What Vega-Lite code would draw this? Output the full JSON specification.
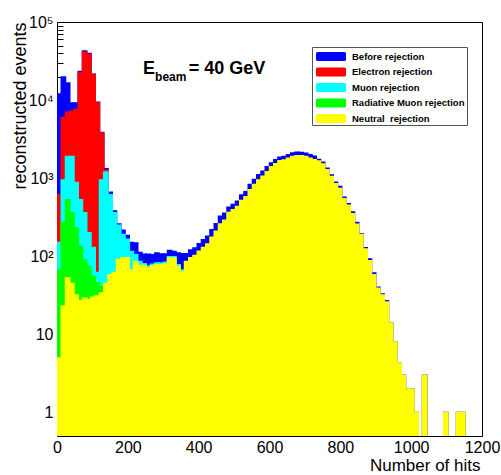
{
  "$schema": "https://vega.github.io/schema/vega-lite/v6.json",
  "width": 425,
  "height": 414,
  "autosize": {"type": "none"},
  "padding": {"left": 57, "top": 22, "right": 19, "bottom": 39},
  "background": "white",
  "config": {
    "view": {"stroke": "#000", "strokeWidth": 1},
    "font": "Liberation Sans"
  },
  "datasets": {
    "hist": [
      {"s":"Before rejection","lo":0,"hi":12,"n":12000},{"s":"Before rejection","lo":12,"hi":24,"n":19800},{"s":"Before rejection","lo":24,"hi":36,"n":16600},{"s":"Before rejection","lo":36,"hi":48,"n":9200},{"s":"Before rejection","lo":48,"hi":60,"n":9200},{"s":"Before rejection","lo":60,"hi":72,"n":23300},{"s":"Before rejection","lo":72,"hi":84,"n":42500},{"s":"Before rejection","lo":84,"hi":96,"n":39500},{"s":"Before rejection","lo":96,"hi":108,"n":21500},{"s":"Before rejection","lo":108,"hi":120,"n":9400},
      {"s":"Before rejection","lo":120,"hi":132,"n":3850},{"s":"Before rejection","lo":132,"hi":144,"n":1320},{"s":"Before rejection","lo":144,"hi":156,"n":660},{"s":"Before rejection","lo":156,"hi":168,"n":380},{"s":"Before rejection","lo":168,"hi":180,"n":260},{"s":"Before rejection","lo":180,"hi":192,"n":215},{"s":"Before rejection","lo":192,"hi":204,"n":185},{"s":"Before rejection","lo":204,"hi":216,"n":150},{"s":"Before rejection","lo":216,"hi":228,"n":148},{"s":"Before rejection","lo":228,"hi":240,"n":112},
      {"s":"Before rejection","lo":240,"hi":252,"n":106},{"s":"Before rejection","lo":252,"hi":264,"n":106},{"s":"Before rejection","lo":264,"hi":276,"n":105},{"s":"Before rejection","lo":276,"hi":288,"n":110},{"s":"Before rejection","lo":288,"hi":300,"n":107},{"s":"Before rejection","lo":300,"hi":312,"n":107},{"s":"Before rejection","lo":312,"hi":324,"n":119},{"s":"Before rejection","lo":324,"hi":336,"n":115},{"s":"Before rejection","lo":336,"hi":348,"n":110},{"s":"Before rejection","lo":348,"hi":360,"n":108},
      {"s":"Before rejection","lo":360,"hi":372,"n":108},{"s":"Before rejection","lo":372,"hi":384,"n":120},{"s":"Before rejection","lo":384,"hi":396,"n":128},{"s":"Before rejection","lo":396,"hi":408,"n":145},{"s":"Before rejection","lo":408,"hi":420,"n":163},{"s":"Before rejection","lo":420,"hi":432,"n":180},{"s":"Before rejection","lo":432,"hi":444,"n":218},{"s":"Before rejection","lo":444,"hi":456,"n":262},{"s":"Before rejection","lo":456,"hi":468,"n":325},{"s":"Before rejection","lo":468,"hi":480,"n":355},
      {"s":"Before rejection","lo":480,"hi":492,"n":425},{"s":"Before rejection","lo":492,"hi":504,"n":460},{"s":"Before rejection","lo":504,"hi":516,"n":505},{"s":"Before rejection","lo":516,"hi":528,"n":610},{"s":"Before rejection","lo":528,"hi":540,"n":670},{"s":"Before rejection","lo":540,"hi":552,"n":830},{"s":"Before rejection","lo":552,"hi":564,"n":960},{"s":"Before rejection","lo":564,"hi":576,"n":1110},{"s":"Before rejection","lo":576,"hi":588,"n":1230},{"s":"Before rejection","lo":588,"hi":600,"n":1400},
      {"s":"Before rejection","lo":600,"hi":612,"n":1560},{"s":"Before rejection","lo":612,"hi":624,"n":1720},{"s":"Before rejection","lo":624,"hi":636,"n":1860},{"s":"Before rejection","lo":636,"hi":648,"n":1900},{"s":"Before rejection","lo":648,"hi":660,"n":2000},{"s":"Before rejection","lo":660,"hi":672,"n":2100},{"s":"Before rejection","lo":672,"hi":684,"n":2150},{"s":"Before rejection","lo":684,"hi":696,"n":2140},{"s":"Before rejection","lo":696,"hi":708,"n":2080},{"s":"Before rejection","lo":708,"hi":720,"n":1990},
      {"s":"Before rejection","lo":720,"hi":732,"n":1910},{"s":"Before rejection","lo":732,"hi":744,"n":1740},{"s":"Before rejection","lo":744,"hi":756,"n":1600},{"s":"Before rejection","lo":756,"hi":768,"n":1340},{"s":"Before rejection","lo":768,"hi":780,"n":1100},{"s":"Before rejection","lo":780,"hi":792,"n":890},{"s":"Before rejection","lo":792,"hi":804,"n":780},{"s":"Before rejection","lo":804,"hi":816,"n":570},{"s":"Before rejection","lo":816,"hi":828,"n":470},{"s":"Before rejection","lo":828,"hi":840,"n":370},
      {"s":"Before rejection","lo":840,"hi":852,"n":270},{"s":"Before rejection","lo":852,"hi":864,"n":195},{"s":"Before rejection","lo":864,"hi":876,"n":129},{"s":"Before rejection","lo":876,"hi":888,"n":92},{"s":"Before rejection","lo":888,"hi":900,"n":61},{"s":"Before rejection","lo":900,"hi":912,"n":40},{"s":"Before rejection","lo":912,"hi":924,"n":33},{"s":"Before rejection","lo":924,"hi":936,"n":27},{"s":"Before rejection","lo":936,"hi":948,"n":14},{"s":"Before rejection","lo":948,"hi":960,"n":8},
      {"s":"Before rejection","lo":960,"hi":972,"n":4.3},{"s":"Before rejection","lo":972,"hi":984,"n":3},{"s":"Before rejection","lo":984,"hi":996,"n":2},{"s":"Before rejection","lo":996,"hi":1008,"n":2},{"s":"Before rejection","lo":1008,"hi":1020,"n":1},{"s":"Before rejection","lo":1032,"hi":1044,"n":3},{"s":"Before rejection","lo":1092,"hi":1104,"n":1},{"s":"Before rejection","lo":1128,"hi":1140,"n":1},{"s":"Before rejection","lo":1140,"hi":1152,"n":1},

      {"s":"Electron rejection","lo":0,"hi":12,"n":615},{"s":"Electron rejection","lo":12,"hi":24,"n":6000},{"s":"Electron rejection","lo":24,"hi":36,"n":7000},{"s":"Electron rejection","lo":36,"hi":48,"n":7200},{"s":"Electron rejection","lo":48,"hi":60,"n":7600},{"s":"Electron rejection","lo":60,"hi":72,"n":22400},{"s":"Electron rejection","lo":72,"hi":84,"n":41300},{"s":"Electron rejection","lo":84,"hi":96,"n":38400},{"s":"Electron rejection","lo":96,"hi":108,"n":21200},{"s":"Electron rejection","lo":108,"hi":120,"n":9200},{"s":"Electron rejection","lo":120,"hi":132,"n":3800},{"s":"Electron rejection","lo":132,"hi":144,"n":1270},

      {"s":"Muon rejection","lo":0,"hi":12,"n":150},{"s":"Muon rejection","lo":12,"hi":24,"n":950},{"s":"Muon rejection","lo":24,"hi":36,"n":1900},{"s":"Muon rejection","lo":36,"hi":48,"n":1900},{"s":"Muon rejection","lo":48,"hi":60,"n":880},{"s":"Muon rejection","lo":60,"hi":72,"n":530},{"s":"Muon rejection","lo":72,"hi":84,"n":360},{"s":"Muon rejection","lo":84,"hi":96,"n":200},{"s":"Muon rejection","lo":96,"hi":108,"n":130},{"s":"Muon rejection","lo":108,"hi":120,"n":62},
      {"s":"Muon rejection","lo":120,"hi":132,"n":950},{"s":"Muon rejection","lo":132,"hi":144,"n":1200},{"s":"Muon rejection","lo":144,"hi":156,"n":615},{"s":"Muon rejection","lo":156,"hi":168,"n":360},{"s":"Muon rejection","lo":168,"hi":180,"n":250},{"s":"Muon rejection","lo":180,"hi":192,"n":190},{"s":"Muon rejection","lo":192,"hi":204,"n":165},{"s":"Muon rejection","lo":204,"hi":216,"n":115},{"s":"Muon rejection","lo":216,"hi":228,"n":105},{"s":"Muon rejection","lo":228,"hi":240,"n":86},
      {"s":"Muon rejection","lo":240,"hi":252,"n":80},{"s":"Muon rejection","lo":252,"hi":264,"n":75},{"s":"Muon rejection","lo":264,"hi":276,"n":79},{"s":"Muon rejection","lo":276,"hi":288,"n":82},{"s":"Muon rejection","lo":288,"hi":300,"n":82},{"s":"Muon rejection","lo":300,"hi":312,"n":84},{"s":"Muon rejection","lo":312,"hi":324,"n":99},{"s":"Muon rejection","lo":324,"hi":336,"n":99},{"s":"Muon rejection","lo":336,"hi":348,"n":78},{"s":"Muon rejection","lo":348,"hi":360,"n":67},

      {"s":"Radiative Muon rejection","lo":0,"hi":12,"n":67},{"s":"Radiative Muon rejection","lo":12,"hi":24,"n":270},{"s":"Radiative Muon rejection","lo":24,"hi":36,"n":530},{"s":"Radiative Muon rejection","lo":36,"hi":48,"n":360},{"s":"Radiative Muon rejection","lo":48,"hi":60,"n":230},{"s":"Radiative Muon rejection","lo":60,"hi":72,"n":133},{"s":"Radiative Muon rejection","lo":72,"hi":84,"n":90},{"s":"Radiative Muon rejection","lo":84,"hi":96,"n":74},{"s":"Radiative Muon rejection","lo":96,"hi":108,"n":55},{"s":"Radiative Muon rejection","lo":108,"hi":120,"n":46},{"s":"Radiative Muon rejection","lo":120,"hi":132,"n":41},{"s":"Radiative Muon rejection","lo":132,"hi":144,"n":45},

      {"s":"Neutral\u00a0 rejection","lo":0,"hi":12,"n":5},{"s":"Neutral\u00a0 rejection","lo":12,"hi":24,"n":23},{"s":"Neutral\u00a0 rejection","lo":24,"hi":36,"n":53},{"s":"Neutral\u00a0 rejection","lo":36,"hi":48,"n":45},{"s":"Neutral\u00a0 rejection","lo":48,"hi":60,"n":32},{"s":"Neutral\u00a0 rejection","lo":60,"hi":72,"n":27},{"s":"Neutral\u00a0 rejection","lo":72,"hi":84,"n":29},{"s":"Neutral\u00a0 rejection","lo":84,"hi":96,"n":28},{"s":"Neutral\u00a0 rejection","lo":96,"hi":108,"n":30},{"s":"Neutral\u00a0 rejection","lo":108,"hi":120,"n":31},
      {"s":"Neutral\u00a0 rejection","lo":120,"hi":132,"n":34},{"s":"Neutral\u00a0 rejection","lo":132,"hi":144,"n":45},{"s":"Neutral\u00a0 rejection","lo":144,"hi":156,"n":58},{"s":"Neutral\u00a0 rejection","lo":156,"hi":168,"n":62},{"s":"Neutral\u00a0 rejection","lo":168,"hi":180,"n":91},{"s":"Neutral\u00a0 rejection","lo":180,"hi":192,"n":96},{"s":"Neutral\u00a0 rejection","lo":192,"hi":204,"n":96},{"s":"Neutral\u00a0 rejection","lo":204,"hi":216,"n":67},{"s":"Neutral\u00a0 rejection","lo":216,"hi":228,"n":86},{"s":"Neutral\u00a0 rejection","lo":228,"hi":240,"n":76},
      {"s":"Neutral\u00a0 rejection","lo":240,"hi":252,"n":76},{"s":"Neutral\u00a0 rejection","lo":252,"hi":264,"n":71},{"s":"Neutral\u00a0 rejection","lo":264,"hi":276,"n":75},{"s":"Neutral\u00a0 rejection","lo":276,"hi":288,"n":78},{"s":"Neutral\u00a0 rejection","lo":288,"hi":300,"n":78},{"s":"Neutral\u00a0 rejection","lo":300,"hi":312,"n":80},{"s":"Neutral\u00a0 rejection","lo":312,"hi":324,"n":95},{"s":"Neutral\u00a0 rejection","lo":324,"hi":336,"n":95},{"s":"Neutral\u00a0 rejection","lo":336,"hi":348,"n":74},{"s":"Neutral\u00a0 rejection","lo":348,"hi":360,"n":63},
      {"s":"Neutral\u00a0 rejection","lo":360,"hi":372,"n":86},{"s":"Neutral\u00a0 rejection","lo":372,"hi":384,"n":96},{"s":"Neutral\u00a0 rejection","lo":384,"hi":396,"n":102},{"s":"Neutral\u00a0 rejection","lo":396,"hi":408,"n":116},{"s":"Neutral\u00a0 rejection","lo":408,"hi":420,"n":130},{"s":"Neutral\u00a0 rejection","lo":420,"hi":432,"n":144},{"s":"Neutral\u00a0 rejection","lo":432,"hi":444,"n":175},{"s":"Neutral\u00a0 rejection","lo":444,"hi":456,"n":210},{"s":"Neutral\u00a0 rejection","lo":456,"hi":468,"n":260},{"s":"Neutral\u00a0 rejection","lo":468,"hi":480,"n":290},
      {"s":"Neutral\u00a0 rejection","lo":480,"hi":492,"n":365},{"s":"Neutral\u00a0 rejection","lo":492,"hi":504,"n":395},{"s":"Neutral\u00a0 rejection","lo":504,"hi":516,"n":435},{"s":"Neutral\u00a0 rejection","lo":516,"hi":528,"n":520},{"s":"Neutral\u00a0 rejection","lo":528,"hi":540,"n":580},{"s":"Neutral\u00a0 rejection","lo":540,"hi":552,"n":710},{"s":"Neutral\u00a0 rejection","lo":552,"hi":564,"n":830},{"s":"Neutral\u00a0 rejection","lo":564,"hi":576,"n":950},{"s":"Neutral\u00a0 rejection","lo":576,"hi":588,"n":1060},{"s":"Neutral\u00a0 rejection","lo":588,"hi":600,"n":1210},
      {"s":"Neutral\u00a0 rejection","lo":600,"hi":612,"n":1400},{"s":"Neutral\u00a0 rejection","lo":612,"hi":624,"n":1530},{"s":"Neutral\u00a0 rejection","lo":624,"hi":636,"n":1670},{"s":"Neutral\u00a0 rejection","lo":636,"hi":648,"n":1710},{"s":"Neutral\u00a0 rejection","lo":648,"hi":660,"n":1800},{"s":"Neutral\u00a0 rejection","lo":660,"hi":672,"n":1900},{"s":"Neutral\u00a0 rejection","lo":672,"hi":684,"n":1940},{"s":"Neutral\u00a0 rejection","lo":684,"hi":696,"n":1940},{"s":"Neutral\u00a0 rejection","lo":696,"hi":708,"n":1890},{"s":"Neutral\u00a0 rejection","lo":708,"hi":720,"n":1800},
      {"s":"Neutral\u00a0 rejection","lo":720,"hi":732,"n":1720},{"s":"Neutral\u00a0 rejection","lo":732,"hi":744,"n":1660},{"s":"Neutral\u00a0 rejection","lo":744,"hi":756,"n":1520},{"s":"Neutral\u00a0 rejection","lo":756,"hi":768,"n":1280},{"s":"Neutral\u00a0 rejection","lo":768,"hi":780,"n":1050},{"s":"Neutral\u00a0 rejection","lo":780,"hi":792,"n":850},{"s":"Neutral\u00a0 rejection","lo":792,"hi":804,"n":740},{"s":"Neutral\u00a0 rejection","lo":804,"hi":816,"n":545},{"s":"Neutral\u00a0 rejection","lo":816,"hi":828,"n":450},{"s":"Neutral\u00a0 rejection","lo":828,"hi":840,"n":350},
      {"s":"Neutral\u00a0 rejection","lo":840,"hi":852,"n":258},{"s":"Neutral\u00a0 rejection","lo":852,"hi":864,"n":190},{"s":"Neutral\u00a0 rejection","lo":864,"hi":876,"n":124},{"s":"Neutral\u00a0 rejection","lo":876,"hi":888,"n":88},{"s":"Neutral\u00a0 rejection","lo":888,"hi":900,"n":58},{"s":"Neutral\u00a0 rejection","lo":900,"hi":912,"n":39},{"s":"Neutral\u00a0 rejection","lo":912,"hi":924,"n":32},{"s":"Neutral\u00a0 rejection","lo":924,"hi":936,"n":26},{"s":"Neutral\u00a0 rejection","lo":936,"hi":948,"n":14},{"s":"Neutral\u00a0 rejection","lo":948,"hi":960,"n":8},
      {"s":"Neutral\u00a0 rejection","lo":960,"hi":972,"n":4.3},{"s":"Neutral\u00a0 rejection","lo":972,"hi":984,"n":3},{"s":"Neutral\u00a0 rejection","lo":984,"hi":996,"n":2},{"s":"Neutral\u00a0 rejection","lo":996,"hi":1008,"n":2},{"s":"Neutral\u00a0 rejection","lo":1008,"hi":1020,"n":1},{"s":"Neutral\u00a0 rejection","lo":1032,"hi":1044,"n":3},{"s":"Neutral\u00a0 rejection","lo":1092,"hi":1104,"n":1},{"s":"Neutral\u00a0 rejection","lo":1128,"hi":1140,"n":1},{"s":"Neutral\u00a0 rejection","lo":1140,"hi":1152,"n":1}
    ]
  },
  "layer": [
    {
      "data": {"name": "hist"},
      "mark": {"type": "bar", "clip": true, "strokeWidth": 1.5},
      "encoding": {
        "x": {
          "field": "lo", "type": "quantitative",
          "scale": {"domain": [0, 1200], "nice": false, "zero": false},
          "axis": {
            "title": "Number of hits",
            "values": [0,50,100,150,200,250,300,350,400,450,500,550,600,650,700,750,800,850,900,950,1000,1050,1100,1150,1200],
            "labelExpr": "datum.value % 200 == 0 ? datum.label : ''",
            "format": "d",
            "labelFlush": false,
            "labelOverlap": false,
            "labelFont": "Liberation Sans", "labelFontSize": 16, "labelColor": "#000",
            "labelPadding": 15,
            "ticks": true, "tickColor": "#000", "tickWidth": 1,
            "tickSize": {"condition": {"test": "datum.value % 200 == 0", "value": -12}, "value": -6},
            "domain": false, "grid": false, "zindex": 0,
            "titleFont": "Liberation Sans", "titleFontSize": 17, "titleFontWeight": "normal", "titleColor": "#000",
            "titleX": 423, "titleY": 34, "titleAlign": "right", "titleBaseline": "alphabetic", "titleAngle": 0
          }
        },
        "x2": {"field": "hi"},
        "y": {
          "field": "n", "type": "quantitative",
          "scale": {"type": "log", "domain": [0.5, 100000], "nice": false},
          "axis": {
            "title": "reconstructed events",
            "values": [1,2,3,4,5,6,7,8,9,10,20,30,40,50,60,70,80,90,100,200,300,400,500,600,700,800,900,1000,2000,3000,4000,5000,6000,7000,8000,9000,10000,20000,30000,40000,50000,60000,70000,80000,90000,100000],
            "labelExpr": "datum.value == 1 ? '1' : datum.value == 10 ? '10' : datum.value == 100 ? '10²' : datum.value == 1000 ? '10³' : datum.value == 10000 ? '10⁴' : datum.value == 100000 ? '10⁵' : ''",
            "labelOverlap": false,
            "labelFont": "Liberation Sans", "labelFontSize": 16, "labelColor": "#000",
            "labelPadding": 16,
            "ticks": true, "tickColor": "#000", "tickWidth": 1,
            "tickSize": {"condition": {"test": "indexof([1,10,100,1000,10000,100000], datum.value) >= 0", "value": -12}, "value": -6},
            "domain": false, "grid": false, "zindex": 0,
            "titleFont": "Liberation Sans", "titleFontSize": 18, "titleFontWeight": "normal", "titleColor": "#000",
            "titleX": -32, "titleY": 0, "titleAlign": "right", "titleBaseline": "alphabetic", "titleAngle": -90
          }
        },
        "y2": {"datum": 0.5},
        "color": {
          "field": "s", "type": "nominal",
          "scale": {
            "domain": ["Before rejection", "Electron rejection", "Muon rejection", "Radiative Muon rejection", "Neutral\u00a0 rejection"],
            "range": ["#0000ff", "#ff0000", "#00ffff", "#00ff00", "#ffff00"]
          },
          "legend": {
            "orient": "none", "legendX": 255, "legendY": 25,
            "title": null, "direction": "vertical",
            "symbolType": "M-1.8,-0.6H1.8Q2,-0.6 2,-0.4V0.4Q2,0.6 1.8,0.6H-1.8Q-2,0.6 -2,0.4V-0.4Q-2,-0.6 -1.8,-0.6Z",
            "symbolSize": 225, "symbolStrokeWidth": 0, "symbolOpacity": 1, "symbolOffset": 9.5,
            "labelFont": "Liberation Sans", "labelFontSize": 9.5, "labelFontWeight": "bold", "labelColor": "#000",
            "labelOffset": 13.5,
            "strokeColor": "#555", "fillColor": "#fff", "padding": 2, "rowPadding": 3.5
          }
        },
        "stroke": {
          "field": "s", "type": "nominal",
          "scale": {
            "domain": ["Before rejection", "Electron rejection", "Muon rejection", "Radiative Muon rejection", "Neutral\u00a0 rejection"],
            "range": ["#0000ff", "#ff0000", "#00ffff", "#00ff00", "#ffff00"]
          },
          "legend": null
        }
      }
    },
    {
      "data": {"values": [{"lo": 243, "n": 21600, "t": "E"}]},
      "mark": {"type": "text", "font": "Liberation Sans", "fontWeight": "bold", "fontSize": 18, "align": "left", "baseline": "alphabetic", "color": "#000"},
      "encoding": {
        "x": {"field": "lo", "type": "quantitative"},
        "y": {"field": "n", "type": "quantitative"},
        "text": {"field": "t"}
      }
    },
    {
      "data": {"values": [{"lo": 277, "n": 17600, "t": "beam"}]},
      "mark": {"type": "text", "font": "Liberation Sans", "fontWeight": "bold", "fontSize": 12, "align": "left", "baseline": "alphabetic", "color": "#000"},
      "encoding": {
        "x": {"field": "lo", "type": "quantitative"},
        "y": {"field": "n", "type": "quantitative"},
        "text": {"field": "t"}
      }
    },
    {
      "data": {"values": [{"lo": 372, "n": 21600, "t": "= 40 GeV"}]},
      "mark": {"type": "text", "font": "Liberation Sans", "fontWeight": "bold", "fontSize": 18, "align": "left", "baseline": "alphabetic", "color": "#000"},
      "encoding": {
        "x": {"field": "lo", "type": "quantitative"},
        "y": {"field": "n", "type": "quantitative"},
        "text": {"field": "t"}
      }
    }
  ]
}
